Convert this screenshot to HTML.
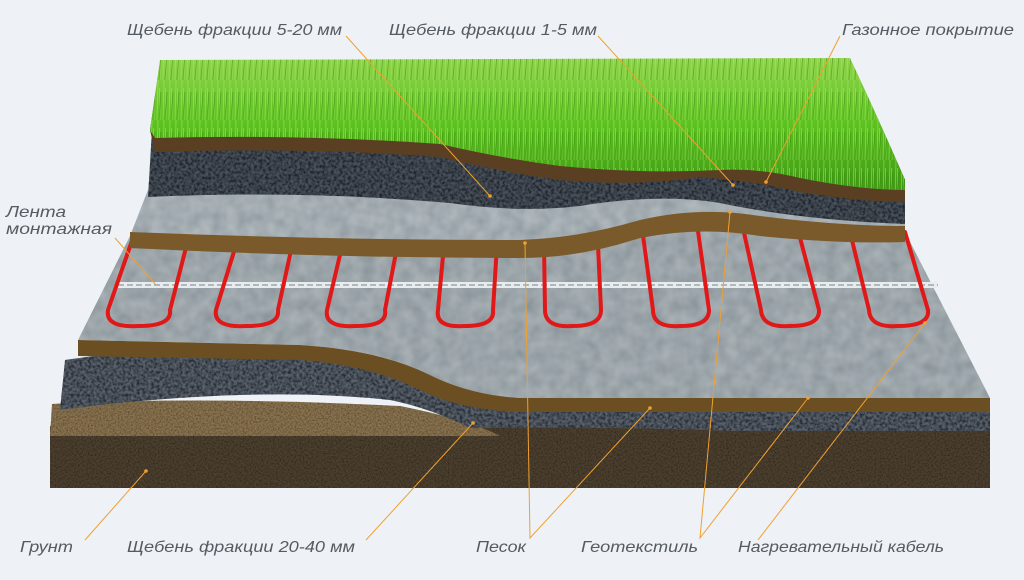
<!DOCTYPE html>
<html><head><meta charset="utf-8"><style>
html,body{margin:0;padding:0;background:#eef2f6;}
svg{display:block}
text{font-family:"Liberation Sans",sans-serif;font-style:italic;font-size:16px;fill:#555b62}
</style></head><body>
<svg width="1024" height="580" viewBox="0 0 1024 580" xmlns="http://www.w3.org/2000/svg">
<defs>
<filter id="grav" x="0" y="0" width="100%" height="100%">
<feTurbulence type="fractalNoise" baseFrequency="0.35" numOctaves="2" seed="3"/>
<feColorMatrix type="matrix" values="0 0 0 0 0.2 0 0 0 0 0.22 0 0 0 0 0.25 0 0 0 -2.2 1.6"/>
<feComposite in2="SourceGraphic" operator="in"/>
<feBlend in2="SourceGraphic" mode="multiply"/>
</filter>
<filter id="geo" x="0" y="0" width="100%" height="100%">
<feTurbulence type="fractalNoise" baseFrequency="0.08" numOctaves="2" seed="7"/>
<feColorMatrix type="matrix" values="0 0 0 0 0.6 0 0 0 0 0.65 0 0 0 0 0.68 0 0 0 -1.2 1.0"/>
<feComposite in2="SourceGraphic" operator="in"/>
<feBlend in2="SourceGraphic" mode="multiply"/>
</filter>
<filter id="soil"><feTurbulence type="fractalNoise" baseFrequency="0.6" numOctaves="2" seed="5"/>
<feColorMatrix type="matrix" values="0 0 0 0 0.2 0 0 0 0 0.15 0 0 0 0 0.1 0 0 0 -1.5 1"/>
<feComposite in2="SourceGraphic" operator="in"/>
<feBlend in2="SourceGraphic" mode="multiply"/></filter>
<linearGradient id="grass" x1="0" y1="0" x2="0" y2="1">
<stop offset="0" stop-color="#8fd44a"/><stop offset="0.5" stop-color="#5cc21f"/><stop offset="1" stop-color="#3f9a12"/></linearGradient>
<pattern id="blades" width="6" height="40" patternUnits="userSpaceOnUse">
<path d="M1 40 L2 0 M4 40 L3.5 8" stroke="#aee878" stroke-width="0.8" opacity="0.6"/>
<path d="M3 40 L5 12" stroke="#2e7a0c" stroke-width="0.8" opacity="0.5"/></pattern>
</defs>

<path d="M50 426 L990 426 L990 488 L50 488 Z" fill="#4d4130" filter="url(#soil)"/>
<path d="M52 404 Q200 396 400 406 Q470 420 500 436 L50 436 Z" fill="#8a7450" filter="url(#soil)"/>
<path d="M65 360 Q200 340 330 355 Q420 385 480 400 L990 400 L990 431 L740 431 Q600 426 470 428 Q430 408 390 400 Q250 385 60 410 Z" fill="#5a626c" filter="url(#grav)"/>
<path d="M130 236 L148 190 L905 190 L905 232 L990 398 L520 398 Q470 395 430 375 Q380 350 300 345 L78 340 Z" fill="#a8b0b4" filter="url(#geo)"/>
<path d="M78 340 L300 345 Q380 350 430 375 Q470 395 520 398 L990 398 L990 412 L520 412 Q460 410 420 390 Q370 365 300 360 L78 356 Z" fill="#6b4e22"/>
<rect x="118" y="282" width="820" height="6" fill="#e8ecee"/>
<line x1="118" y1="285" x2="938" y2="285" stroke="#9aa" stroke-width="1.5" stroke-dasharray="6 3"/>
<g fill="none" stroke="#e01818" stroke-width="4" stroke-linecap="round">
<path d="M135 232 L108 310 Q105 328 139 326 Q172 326 170 310 L190 232"/>
<path d="M240 232 L216 310 Q213 328 247 326 Q280 326 278 310 L295 232"/>
<path d="M343 242 L327 310 Q324 328 356 326 Q388 326 385 310 L398 242"/>
<path d="M444 245 L438 310 Q435 328 465 326 Q495 326 493 310 L497 245"/>
<path d="M544 245 L545 310 Q545 328 573 326 Q601 326 601 310 L598 245"/>
<path d="M642 228 L653 310 Q653 328 681 326 Q709 326 709 310 L697 224"/>
<path d="M743 228 L761 310 Q762 328 790 326 Q820 326 819 310 L798 230"/>
<path d="M850 232 L869 310 Q870 328 898 326 Q930 326 928 310 L905 232"/>
</g>
<path d="M148 192 L160 62 L850 60 Q870 100 905 180 L905 230 Q840 230 760 220 Q700 210 640 224 Q580 242 520 244 Q330 244 130 236 Z" fill="#b0b8bc" filter="url(#geo)"/>
<path d="M130 232 Q330 240 520 240 Q580 238 640 220 Q700 206 760 216 Q840 226 905 226 L905 242 Q840 244 760 236 Q700 226 640 238 Q580 258 520 258 Q330 258 130 248 Z" fill="#7a5a2a"/>
<path d="M152 130 L160 62 L850 60 Q870 100 905 180 L905 224 Q800 220 720 203 Q660 193 580 206 Q520 213 450 203 Q300 190 148 197 Z" fill="#4a525c" filter="url(#grav)"/>
<path d="M150 130 L160 62 L850 60 Q870 100 905 180 L905 202 Q860 202 800 192 Q760 182 700 177 Q640 187 560 180 Q500 172 440 157 Q300 147 155 152 Z" fill="#5a3f22"/>
<path d="M160 60 L850 58 Q870 100 905 180 L905 190 Q860 190 800 178 Q760 168 720 170 Q640 174 560 166 Q500 158 440 144 Q300 134 155 138 L150 130 Z" fill="url(#grass)"/>
<path d="M160 60 L850 58 Q870 100 905 180 L905 190 Q860 190 800 178 Q760 168 720 170 Q640 174 560 166 Q500 158 440 144 Q300 134 155 138 L150 130 Z" fill="url(#blades)"/>

<g stroke="#f0a030" stroke-width="1" fill="none">
<line x1="346" y1="36" x2="490" y2="196"/>
<line x1="598" y1="36" x2="733" y2="185"/>
<line x1="840" y1="36" x2="766" y2="182"/>
<line x1="115" y1="238" x2="156" y2="285"/>
<line x1="85" y1="540" x2="146" y2="471"/>
<line x1="366" y1="540" x2="473" y2="423"/>
<polyline points="525,243 530,538 650,408"/>
<polyline points="730,212 700,538 808,398"/>
<line x1="758" y1="540" x2="925" y2="323"/>
</g>
<g fill="#f0a030"><circle cx="490" cy="196" r="1.8"/><circle cx="733" cy="185" r="1.8"/><circle cx="766" cy="182" r="1.8"/><circle cx="146" cy="471" r="1.8"/><circle cx="473" cy="423" r="1.8"/><circle cx="525" cy="243" r="1.8"/><circle cx="650" cy="408" r="1.8"/><circle cx="730" cy="212" r="1.8"/><circle cx="808" cy="398" r="1.8"/><circle cx="925" cy="323" r="1.8"/></g>

<text x="127" y="35" textLength="215" lengthAdjust="spacingAndGlyphs">Щебень фракции 5-20 мм</text>
<text x="389" y="35" textLength="208" lengthAdjust="spacingAndGlyphs">Щебень фракции 1-5 мм</text>
<text x="842" y="35" textLength="172" lengthAdjust="spacingAndGlyphs">Газонное покрытие</text>
<text x="6" y="217" textLength="60" lengthAdjust="spacingAndGlyphs">Лента</text>
<text x="6" y="234" textLength="106" lengthAdjust="spacingAndGlyphs">монтажная</text>
<text x="20" y="552" textLength="53" lengthAdjust="spacingAndGlyphs">Грунт</text>
<text x="127" y="552" textLength="228" lengthAdjust="spacingAndGlyphs">Щебень фракции 20-40 мм</text>
<text x="476" y="552" textLength="50" lengthAdjust="spacingAndGlyphs">Песок</text>
<text x="581" y="552" textLength="117" lengthAdjust="spacingAndGlyphs">Геотекстиль</text>
<text x="738" y="552" textLength="206" lengthAdjust="spacingAndGlyphs">Нагревательный кабель</text>
</svg>
</body></html>
